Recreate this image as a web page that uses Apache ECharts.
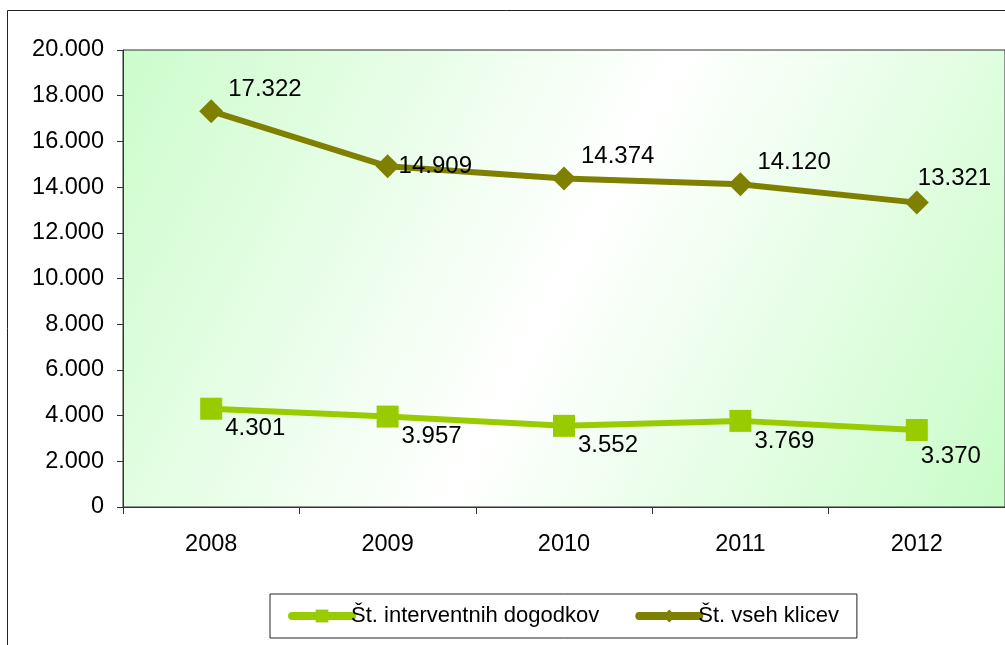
<!DOCTYPE html>
<html>
<head>
<meta charset="utf-8">
<script src="https://cdn.jsdelivr.net/npm/echarts@6/dist/echarts.min.js"></script>
<style>
    html, body { margin: 0; padding: 0; background: #fff; }
    #chart { width: 1005px; height: 645px; }
</style>
</head>
<body>
<div id="chart"></div>
<script>
// podatki
var years = ['2008', '2009', '2010', '2011', '2012']
var interventni = [4301, 3957, 3552, 3769, 3370]
var vsiKlici = [17322, 14909, 14374, 14120, 13321]
var seriesNames = ['Št. interventnih dogodkov', 'Št. vseh klicev']

var FONT = 'Liberation Sans, Arial, sans-serif'

function fmt (v) {
    // 17322 -> 17.322
    return String(v).replace(/\B(?=(\d{3})+(?!\d))/g, '.')
}

var myChart = echarts.init(document.getElementById('chart'))
myChart.setOption({
    animation: false,
    textStyle: { fontFamily: FONT },
    graphic: [{
        type: 'rect',
        shape: { x: 7.5, y: 10.5, width: 1100, height: 700 },
        style: { fill: 'none', stroke: '#222', lineWidth: 1 },
        z: -10
    }],
    grid: {
        left: 123,
        top: 50,
        right: -4,
        bottom: 138,
        show: true,
        borderColor: '#333',
        borderWidth: 1,
        backgroundColor: {
            type: 'linear', x: 0, y: 0, x2: 1, y2: 1,
            colorStops: [
                { offset: 0, color: '#ccfccc' },
                { offset: 0.5, color: '#ffffff' },
                { offset: 1, color: '#c8fcc8' }
            ]
        }
    },
    legend: {
        left: 270,
        top: 594,
        padding: [11, 18, 11, 18],
        itemGap: 36,
        itemWidth: 60,
        itemHeight: 16,
        borderColor: '#222',
        borderWidth: 1,
        backgroundColor: '#fff',
        lineStyle: { width: 8, cap: 'round' },
        textStyle: { fontFamily: FONT, fontSize: 22, color: '#000', padding: [0, 0, 0, -6] },
        data: seriesNames
    },
    xAxis: {
        type: 'category',
        data: years,
        axisLine: { lineStyle: { color: '#333', width: 1 } },
        axisTick: { show: true, length: 7, lineStyle: { color: '#333' } },
        axisLabel: { color: '#000', fontSize: 23.5, fontFamily: FONT, margin: 26 }
    },
    yAxis: {
        type: 'value',
        min: 0,
        max: 20000,
        interval: 2000,
        splitLine: { show: false },
        axisLine: { show: true, lineStyle: { color: '#333', width: 1 } },
        axisTick: { show: true, length: 6, lineStyle: { color: '#333' } },
        axisLabel: {
            color: '#000', fontSize: 23.5, fontFamily: FONT, margin: 19,
            formatter: function (v) { return fmt(v) }
        }
    },
    series: [{
        name: seriesNames[0],
        type: 'line',
        data: interventni.map(function (v, i) {
            // last label sits closer under the point
            return i === interventni.length - 1 ? { value: v, label: { offset: [-12, 26] } } : v
        }),
        symbol: 'rect',
        symbolSize: 22,
        lineStyle: { color: '#99cc00', width: 6 },
        itemStyle: { color: '#99cc00' },
        label: {
            show: true,
            position: 'right',
            offset: [-2, 20],
            color: '#000',
            fontSize: 24,
            fontFamily: FONT,
            formatter: function (p) { return fmt(p.value) }
        },
        z: 3
    }, {
        name: seriesNames[1],
        type: 'line',
        data: vsiKlici.map(function (v, i) {
            // 2009 label level with its point, 2012 label straight above
            if (i === 1) return { value: v, label: { offset: [-6, 0] } }
            if (i === vsiKlici.length - 1) return { value: v, label: { offset: [-16, -24] } }
            return v
        }),
        symbol: 'diamond',
        symbolSize: 24,
        lineStyle: { color: '#808000', width: 6 },
        itemStyle: { color: '#808000' },
        label: {
            show: true,
            position: 'right',
            offset: [0, -22],
            color: '#000',
            fontSize: 24,
            fontFamily: FONT,
            formatter: function (p) { return fmt(p.value) }
        },
        z: 3
    }]
})
</script>
</body>
</html>
